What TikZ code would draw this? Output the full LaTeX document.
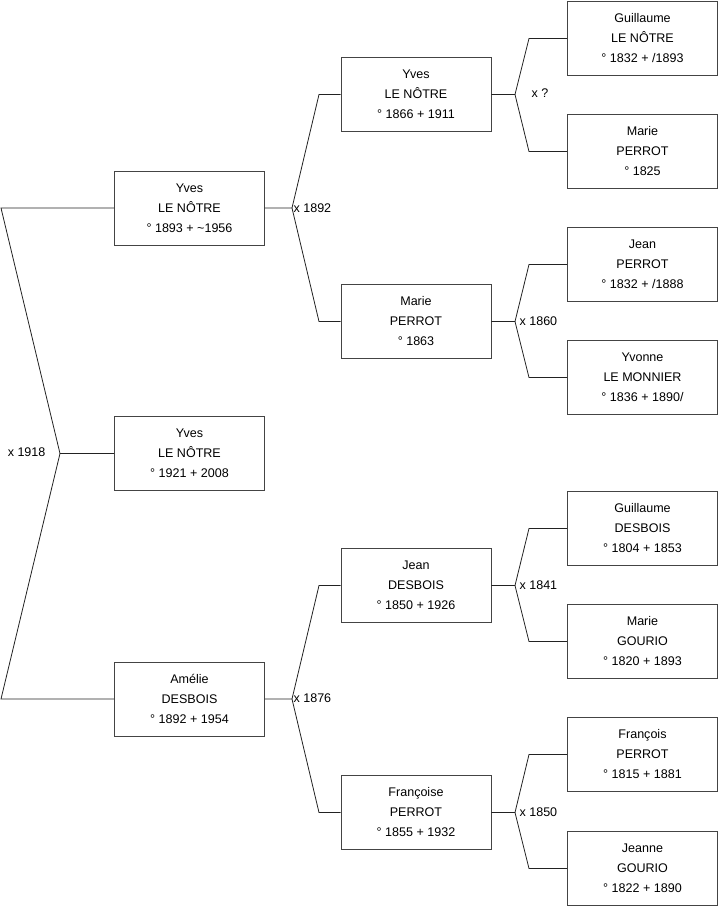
\documentclass[tikz,border=0pt]{standalone}
\usepackage{fontspec}
\setmainfont{Liberation Sans}
\usepackage{tikz}
\usetikzlibrary{positioning,calc}
\definecolor{boxline}{HTML}{444444}
\definecolor{linecol}{HTML}{222222}

\begin{document}
\begin{tikzpicture}[x=0.75pt,y=-0.75pt,
  person/.style={draw=boxline, fill=white, minimum width=112.5pt, minimum height=55.5pt, align=center, font=\fontsize{9.4}{15}\selectfont, inner sep=2pt, line width=0.6pt},
  conn/.style={linecol, line width=0.6pt},
  marr/.style={font=\fontsize{9.4}{11}\selectfont, inner sep=1pt}
]
\useasboundingbox (0,0) rectangle (719,908);

% ---- generation 1 ----
\node[person] (yves1921) at (189.5,453.5) {Yves\\LE NÔTRE\\° 1921 + 2008};

% ---- generation 2 ----
\node[person] (yves1893)   at (189.5,208) {Yves\\LE NÔTRE\\° 1893 + \textasciitilde1956};
\node[person] (amelie1892) at (189.5,699) {Amélie\\DESBOIS\\° 1892 + 1954};

% ---- generation 3 ----
\node[person] (yves1866)      at (416,94.5)  {Yves\\LE NÔTRE\\° 1866 + 1911};
\node[person] (marie1863)     at (416,321.5) {Marie\\PERROT\\° 1863};
\node[person] (jean1850)      at (416,585.5) {Jean\\DESBOIS\\° 1850 + 1926};
\node[person] (francoise1855) at (416,812.5) {Françoise\\PERROT\\° 1855 + 1932};

% ---- generation 4 ----
\node[person] (guillaume1832) at (642.5,38.5)  {Guillaume\\LE NÔTRE\\° 1832 + /1893};
\node[person] (marie1825)     at (642.5,151.5) {Marie\\PERROT\\° 1825};
\node[person] (jean1832)      at (642.5,264.5) {Jean\\PERROT\\° 1832 + /1888};
\node[person] (yvonne1836)    at (642.5,377.5) {Yvonne\\LE MONNIER\\° 1836 + 1890/};
\node[person] (guillaume1804) at (642.5,528.5) {Guillaume\\DESBOIS\\° 1804 + 1853};
\node[person] (marie1820)     at (642.5,641.5) {Marie\\GOURIO\\° 1820 + 1893};
\node[person] (francois1815)  at (642.5,754.5) {François\\PERROT\\° 1815 + 1881};
\node[person] (jeanne1822)    at (642.5,868.5) {Jeanne\\GOURIO\\° 1822 + 1890};

% ---- forks ----
\coordinate (f1) at (60,453.5);
\coordinate (f2) at (292,208);
\coordinate (f3) at (292,699);
\coordinate (f4) at (515,94.5);
\coordinate (f5) at (515,321.5);
\coordinate (f6) at (515,585.5);
\coordinate (f7) at (515,812.5);

% ---- connectors ----
\draw[conn] (yves1921.west) -- (f1) -- (1,208) -- (yves1893.west);
\draw[conn] (f1) -- (1,699) -- (amelie1892.west);

\draw[conn] (yves1893.east) -- (f2) -- (319,94.5) -- (yves1866.west);
\draw[conn] (f2) -- (319,321.5) -- (marie1863.west);
\draw[conn] (amelie1892.east) -- (f3) -- (319,585.5) -- (jean1850.west);
\draw[conn] (f3) -- (319,812.5) -- (francoise1855.west);

\draw[conn] (yves1866.east) -- (f4) -- (529,38.5) -- (guillaume1832.west);
\draw[conn] (f4) -- (529,151.5) -- (marie1825.west);
\draw[conn] (marie1863.east) -- (f5) -- (529,264.5) -- (jean1832.west);
\draw[conn] (f5) -- (529,377.5) -- (yvonne1836.west);
\draw[conn] (jean1850.east) -- (f6) -- (529,528.5) -- (guillaume1804.west);
\draw[conn] (f6) -- (529,641.5) -- (marie1820.west);
\draw[conn] (francoise1855.east) -- (f7) -- (529,754.5) -- (francois1815.west);
\draw[conn] (f7) -- (529,868.5) -- (jeanne1822.west);

% ---- marriages ----
\node[marr, anchor=east] (m1) at (47,452) {x 1918};
\node[marr, anchor=west] (m2) at (292,208) {x 1892};
\node[marr, anchor=west] (m3) at (292,698) {x 1876};
\node[marr, anchor=west] (m4) at (530,93)  {x ?};
\node[marr, anchor=west] (m5) at (518,321) {x 1860};
\node[marr, anchor=west] (m6) at (518,585) {x 1841};
\node[marr, anchor=west] (m7) at (518,812) {x 1850};

\end{tikzpicture}
\end{document}
